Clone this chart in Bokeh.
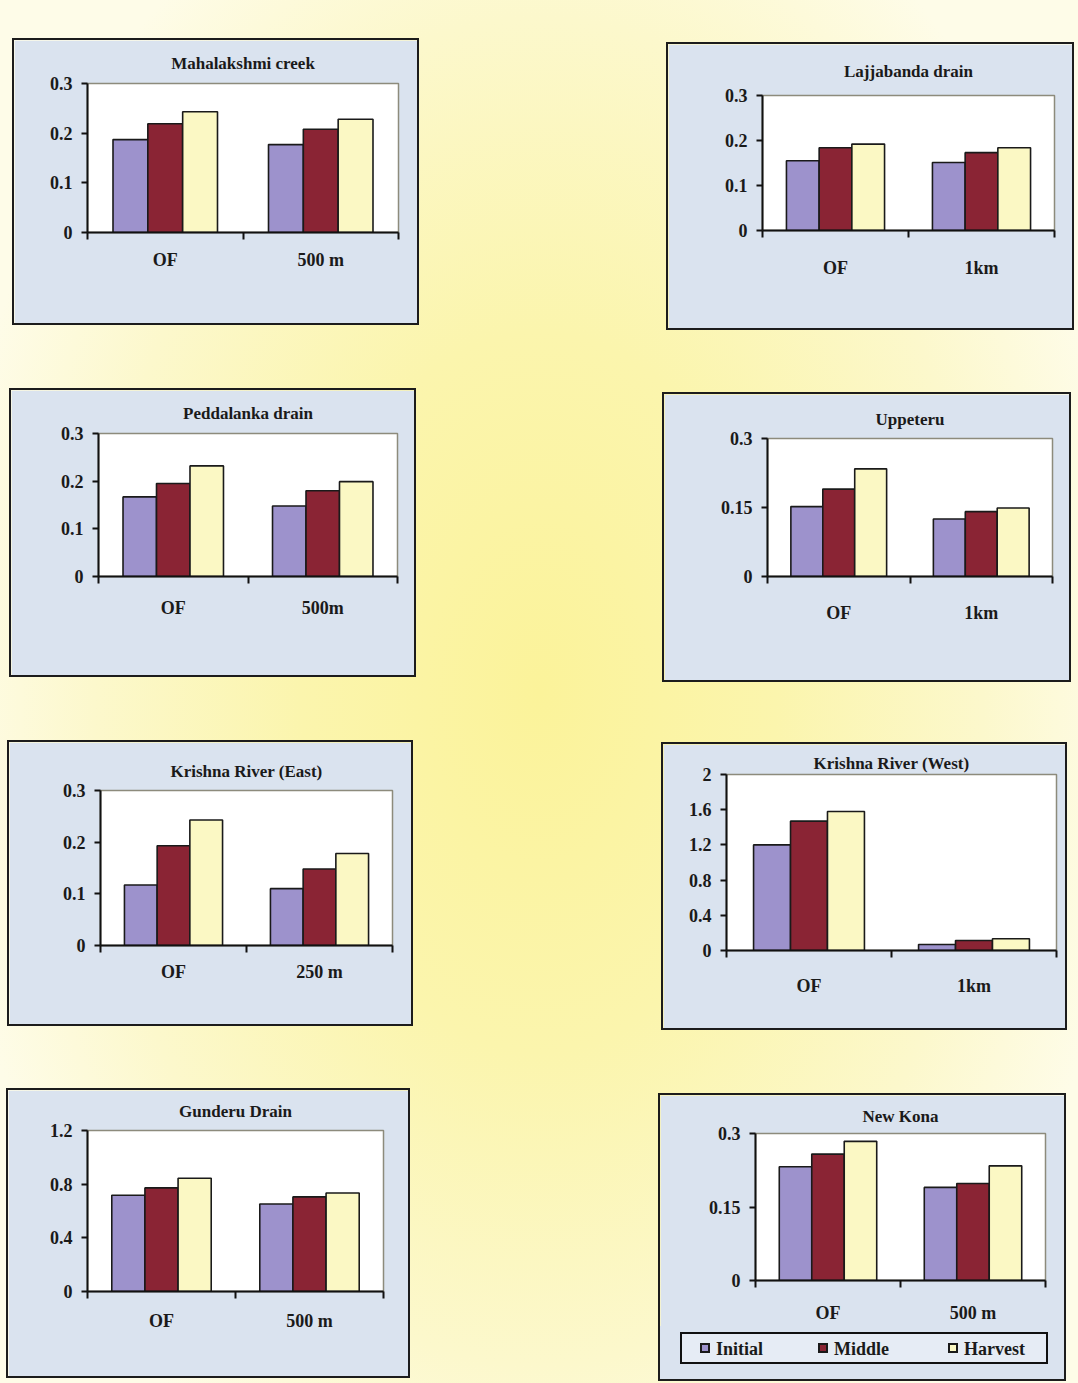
from bokeh.plotting import figure
from bokeh.models import (Range1d, FixedTicker, CustomJSTickFormatter, Div,
                          Spacer, ColumnDataSource)
from bokeh.layouts import row, column
from bokeh.transform import dodge
from bokeh.embed import file_html
from bokeh.resources import INLINE

# ---------------- data ----------------
series_names = ["Initial", "Middle", "Harvest"]

mahalakshmi_sites = ["OF", "500 m"]
mahalakshmi_initial = [0.187, 0.177]
mahalakshmi_middle = [0.219, 0.208]
mahalakshmi_harvest = [0.243, 0.228]
mahalakshmi_yticks = [0, 0.1, 0.2, 0.3]

lajjabanda_sites = ["OF", "1km"]
lajjabanda_initial = [0.155, 0.151]
lajjabanda_middle = [0.184, 0.173]
lajjabanda_harvest = [0.192, 0.184]
lajjabanda_yticks = [0, 0.1, 0.2, 0.3]

peddalanka_sites = ["OF", "500m"]
peddalanka_initial = [0.167, 0.148]
peddalanka_middle = [0.195, 0.180]
peddalanka_harvest = [0.232, 0.199]
peddalanka_yticks = [0, 0.1, 0.2, 0.3]

uppeteru_sites = ["OF", "1km"]
uppeteru_initial = [0.152, 0.125]
uppeteru_middle = [0.190, 0.141]
uppeteru_harvest = [0.234, 0.149]
uppeteru_yticks = [0, 0.15, 0.3]

krishna_east_sites = ["OF", "250 m"]
krishna_east_initial = [0.117, 0.110]
krishna_east_middle = [0.193, 0.148]
krishna_east_harvest = [0.243, 0.178]
krishna_east_yticks = [0, 0.1, 0.2, 0.3]

krishna_west_sites = ["OF", "1km"]
krishna_west_initial = [1.20, 0.068]
krishna_west_middle = [1.47, 0.114]
krishna_west_harvest = [1.58, 0.133]
krishna_west_yticks = [0, 0.4, 0.8, 1.2, 1.6, 2]

gunderu_sites = ["OF", "500 m"]
gunderu_initial = [0.717, 0.652]
gunderu_middle = [0.772, 0.705]
gunderu_harvest = [0.844, 0.734]
gunderu_yticks = [0, 0.4, 0.8, 1.2]

newkona_sites = ["OF", "500 m"]
newkona_initial = [0.232, 0.190]
newkona_middle = [0.258, 0.198]
newkona_harvest = [0.284, 0.234]
newkona_yticks = [0, 0.15, 0.3]

# ---------------- style ----------------
FONT = "Liberation Serif"
COLORS = ["#9d92cc", "#8a2434", "#fbf8c4"]
PANEL_BG = "#dae3ef"
EDGE = "#1c1c1c"
BAR_W = 0.224
BW = 2  # panel border width


def make_panel(title, sites, init, mid, harv, yticks, w, h, bl, br, bt, bb,
               title_standoff, xlabel_standoff):
    """w, h, borders are inner sizes (inside the dark panel border)."""
    n = len(sites)
    src = ColumnDataSource(dict(
        x=[i + 0.5 for i in range(n)], initial=init, middle=mid, harvest=harv))
    p = figure(width=w, height=h, x_range=Range1d(0, n),
               y_range=Range1d(0, yticks[-1]), output_backend="svg",
               toolbar_location=None,
               min_border_left=bl, min_border_right=br,
               min_border_top=bt, min_border_bottom=bb)
    p.xgrid.visible = False
    p.ygrid.visible = False
    p.background_fill_color = "white"
    p.border_fill_color = PANEL_BG
    p.outline_line_color = "#8d8b7c"
    p.outline_line_width = 1.5

    for off, field, col in zip([-BAR_W, 0, BAR_W],
                               ["initial", "middle", "harvest"], COLORS):
        p.vbar(x=dodge("x", off), top=field, width=BAR_W, source=src,
               fill_color=col, line_color="#1a1a1a", line_width=1.6)

    xa = p.xaxis[0]
    xa.ticker = FixedTicker(ticks=[i + 0.5 for i in range(n)],
                            minor_ticks=list(range(n + 1)))
    xa.formatter = CustomJSTickFormatter(args=dict(labels=sites),
                                         code="return labels[Math.floor(tick)];")
    xa.major_tick_line_color = None
    xa.major_tick_out = 0
    xa.major_tick_in = 0
    xa.minor_tick_out = 7
    xa.minor_tick_in = 0
    xa.minor_tick_line_width = 2
    xa.minor_tick_line_color = "#111"
    xa.axis_line_width = 2
    xa.axis_line_color = "#111"
    xa.major_label_standoff = xlabel_standoff
    xa.major_label_text_font = FONT
    xa.major_label_text_font_style = "bold"
    xa.major_label_text_font_size = "18px"
    xa.major_label_text_color = "#1a1a1a"

    ya = p.yaxis[0]
    ya.ticker = FixedTicker(ticks=yticks, minor_ticks=[])
    ya.formatter = CustomJSTickFormatter(code="return String(+tick.toFixed(2));")
    ya.major_tick_out = 6
    ya.major_tick_in = 0
    ya.major_tick_line_width = 2
    ya.major_tick_line_color = "#111"
    ya.axis_line_width = 2
    ya.axis_line_color = "#111"
    ya.major_label_standoff = 9
    ya.major_label_text_font = FONT
    ya.major_label_text_font_style = "bold"
    ya.major_label_text_font_size = "18px"
    ya.major_label_text_color = "#1a1a1a"

    p.title.text = title
    p.title.align = "center"
    p.title.text_font = FONT
    p.title.text_font_style = "bold"
    p.title.text_font_size = "17px"
    p.title.text_color = "#1a1a1a"
    p.title.standoff = title_standoff
    return p


def legend_strip(w, h):
    glyph_x = [18, 136, 266]
    parts = []
    for gx, name, col in zip(glyph_x, series_names, COLORS):
        parts.append(
            f'<span style="position:absolute;left:{gx}px;top:9px;width:10px;'
            f'height:10px;background:{col};border:2px solid #1a1a1a;"></span>'
            f'<span style="position:absolute;left:{gx + 16}px;top:4px;'
            f'line-height:22px;font-family:Liberation Serif,serif;">{name}</span>')
    html = (
        f'<div style="position:relative;width:{w}px;height:{h}px;'
        f'background:{PANEL_BG};">'
        f'<div style="position:absolute;left:20px;top:6px;width:368px;'
        f'height:32px;border:2px solid #111;background:#e6ecf5;'
        f'font-family:Liberation Serif,serif;font-weight:bold;font-size:18px;'
        f'color:#1a1a1a;">' + "".join(parts) + "</div></div>")
    return Div(text=html, width=w, height=h,
               styles={"background-color": PANEL_BG, "margin": "0",
                       "padding": "0", "overflow": "hidden",
                       "font-family": "Liberation Serif, serif"})


def bordered(inner, w, h):
    st = {"background-color": EDGE}
    return row(
        Spacer(width=BW, height=h + 2 * BW, styles=st),
        column(Spacer(width=w, height=BW, styles=st), inner,
               Spacer(width=w, height=BW, styles=st)),
        Spacer(width=BW, height=h + 2 * BW, styles=st))


def panel(title, sites, init, mid, harv, yticks, W, H, bl, br, bt, bb, ts, xs):
    f = make_panel(title, sites, init, mid, harv, yticks, W - 2 * BW, H - 2 * BW,
                   bl - BW, br - BW, bt - BW, bb - BW, ts, xs)
    return bordered(f, W - 2 * BW, H - 2 * BW), W, H


P1 = panel("Mahalakshmi creek", mahalakshmi_sites, mahalakshmi_initial,
           mahalakshmi_middle, mahalakshmi_harvest, mahalakshmi_yticks,
           407, 287, 75, 21, 45, 93, 21, 10)
P2 = panel("Lajjabanda drain", lajjabanda_sites, lajjabanda_initial,
           lajjabanda_middle, lajjabanda_harvest, lajjabanda_yticks,
           408, 288, 96, 20, 53, 100, 29, 20)
P3 = panel("Peddalanka drain", peddalanka_sites, peddalanka_initial,
           peddalanka_middle, peddalanka_harvest, peddalanka_yticks,
           407, 289, 89, 19, 45, 101, 22, 14)
P4 = panel("Uppeteru", uppeteru_sites, uppeteru_initial,
           uppeteru_middle, uppeteru_harvest, uppeteru_yticks,
           409, 290, 105, 19, 46, 106, 20, 19)
P5 = panel("Krishna River (East)", krishna_east_sites, krishna_east_initial,
           krishna_east_middle, krishna_east_harvest, krishna_east_yticks,
           406, 286, 93, 21, 50, 81, 20, 9)
P6 = panel("Krishna River (West)", krishna_west_sites, krishna_west_initial,
           krishna_west_middle, krishna_west_harvest, krishna_west_yticks,
           406, 288, 65, 11, 32, 80, 3, 18)
P7 = panel("Gunderu Drain", gunderu_sites, gunderu_initial,
           gunderu_middle, gunderu_harvest, gunderu_yticks,
           404, 290, 81, 27, 42, 87, 19, 12)

# New Kona: chart part + legend strip inside one bordered panel
NK_W, NK_H = 408, 288
NK_CHART_H = 231
nk_chart = make_panel("New Kona", newkona_sites, newkona_initial,
                      newkona_middle, newkona_harvest, newkona_yticks,
                      NK_W - 2 * BW, NK_CHART_H, 97 - BW, 21 - BW, 40 - BW, 46,
                      15, 15)
nk_legend = legend_strip(NK_W - 2 * BW, NK_H - 2 * BW - NK_CHART_H)
P8 = (bordered(column(nk_chart, nk_legend), NK_W - 2 * BW, NK_H - 2 * BW),
      NK_W, NK_H)

LEFT_W = 650


def placed(P, dx, total):
    obj, ow, oh = P
    return row(Spacer(width=dx, height=oh), obj,
               Spacer(width=total - dx - ow, height=oh))


left = column(
    Spacer(width=LEFT_W, height=38), placed(P1, 12, LEFT_W),
    Spacer(width=LEFT_W, height=63), placed(P3, 9, LEFT_W),
    Spacer(width=LEFT_W, height=63), placed(P5, 7, LEFT_W),
    Spacer(width=LEFT_W, height=62), placed(P7, 6, LEFT_W),
)
RIGHT_W = 1078 - LEFT_W
right = column(
    Spacer(width=RIGHT_W, height=42), placed(P2, 16, RIGHT_W),
    Spacer(width=RIGHT_W, height=62), placed(P4, 12, RIGHT_W),
    Spacer(width=RIGHT_W, height=60), placed(P6, 11, RIGHT_W),
    Spacer(width=RIGHT_W, height=63), placed(P8, 8, RIGHT_W),
)

page = row(left, right, width=1078, height=1383,
           styles={"background": "radial-gradient(ellipse 55% 65% at 50% 50%, "
                                 "#fbf39a 0%, #fbf5ad 40%, #fcf8cc 75%, #fefce8 100%)"})

open("out.html", "w").write(file_html(page, INLINE))
